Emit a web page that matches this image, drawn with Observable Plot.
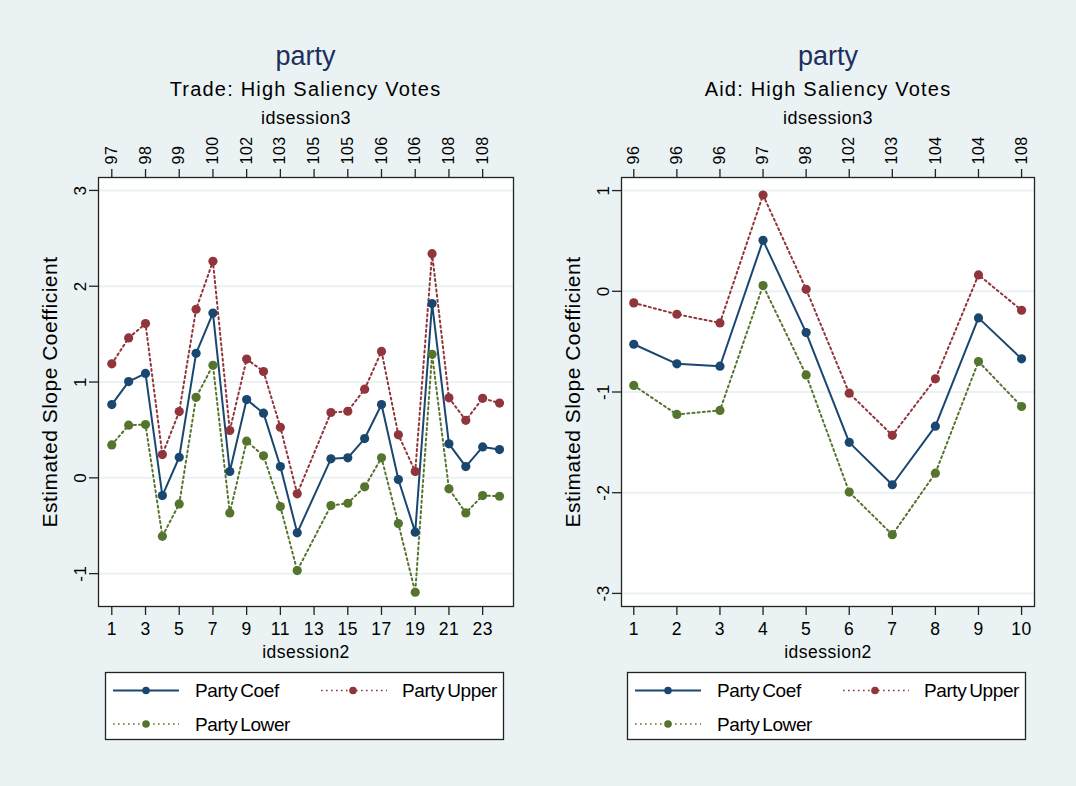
<!DOCTYPE html>
<html>
<head>
<meta charset="utf-8">
<script src="https://cdn.jsdelivr.net/npm/d3@7"></script>
<script src="https://cdn.jsdelivr.net/npm/@observablehq/plot@0.6"></script>
<style>
  html, body { margin: 0; padding: 0; background: #eaf2f3; }
  #wrap { position: relative; width: 1076px; height: 786px; background: #eaf2f3; overflow: hidden;
          font-family: "Liberation Sans", Arial, sans-serif; }
  .ttl { position: absolute; transform: translateX(-50%); white-space: pre; line-height: 1; }
  .main { font-size: 27px; color: #1c2f5e; }
  .sub { font-size: 20px; color: #000; letter-spacing: 0.06em; }
  .panel { position: absolute; top: 100px; }
  #legend { position: absolute; left: 0; top: 660px; }
</style>
</head>
<body>
<div id="wrap"></div>
<script>
// ---------- data ----------
const tradeSession2 = [1,2,3,4,5,6,7,8,9,10,11,12,14,15,16,17,18,19,20,21,22,23,24];
const tradeCoef  = [0.765,1.005,1.09,-0.185,0.215,1.30,1.72,0.066,0.817,0.675,0.118,-0.574,0.198,0.209,0.41,0.765,-0.018,-0.567,1.82,0.355,0.118,0.323,0.295];
const tradeUpper = [1.19,1.46,1.61,0.243,0.692,1.76,2.26,0.494,1.24,1.11,0.528,-0.167,0.682,0.695,0.925,1.32,0.449,0.066,2.34,0.835,0.60,0.83,0.78];
const tradeLower = [0.344,0.55,0.556,-0.61,-0.272,0.84,1.175,-0.366,0.383,0.23,-0.30,-0.968,-0.289,-0.265,-0.094,0.209,-0.477,-1.194,1.29,-0.115,-0.366,-0.185,-0.192];
const tradeBottomTicks = [1,3,5,7,9,11,13,15,17,19,21,23];
const tradeTopTicks = [1,3,5,7,9,11,13,15,17,19,21,23];
const tradeTopLabels = ["97","98","99","100","102","103","105","105","106","106","108","108"];
const tradeYTicks = [-1,0,1,2,3];

const aidSession2 = [1,2,3,4,5,6,7,8,9,10];
const aidCoef  = [-0.526,-0.72,-0.744,0.506,-0.41,-1.50,-1.921,-1.339,-0.264,-0.671];
const aidUpper = [-0.115,-0.228,-0.314,0.956,0.02,-1.012,-1.43,-0.869,0.163,-0.188];
const aidLower = [-0.935,-1.223,-1.183,0.057,-0.83,-1.994,-2.417,-1.806,-0.697,-1.144];
const aidBottomTicks = [1,2,3,4,5,6,7,8,9,10];
const aidTopTicks = [1,2,3,4,5,6,7,8,9,10];
const aidTopLabels = ["96","96","96","97","98","102","103","104","104","108"];
const aidYTicks = [-3,-2,-1,0,1];

const seriesNames = ["Party Coef", "Party Upper", "Party Lower"];
const seriesColors = ["#1a476f", "#90353b", "#55752f"];

// ---------- helpers ----------
const FONT = "Liberation Sans, Arial, sans-serif";
const wrap = document.getElementById("wrap");

function addTitle(text, cls, cx, top) {
  const d = document.createElement("div");
  d.className = "ttl " + cls;
  d.textContent = text;
  d.style.left = cx + "px";
  d.style.top = top + "px";
  wrap.appendChild(d);
}

function panel(cfg) {
  const rows = cfg.xs.map((x, i) => ({x, coef: cfg.coef[i], upper: cfg.upper[i], lower: cfg.lower[i]}));
  const top = cfg.topTicks.map((x, i) => ({x, label: cfg.topLabels[i]}));
  const fmt = d => String(d);
  const svg = Plot.plot({
    width: 538, height: 580,
    marginLeft: cfg.ml, marginRight: cfg.mr, marginTop: 77, marginBottom: 74,
    style: {background: "transparent", fontFamily: FONT, overflow: "visible", color: "#000"},
    x: {domain: cfg.xDomain, axis: null},
    y: {domain: cfg.yDomain, axis: null},
    marks: [
      Plot.frame({fill: "white", stroke: null}),
      Plot.gridY(cfg.yTicks, {stroke: "#eaf2f3", strokeOpacity: 1, strokeWidth: 2}),
      Plot.line(rows, {x: "x", y: "upper", stroke: seriesColors[1], strokeWidth: 2, strokeDasharray: "2,3.2"}),
      Plot.line(rows, {x: "x", y: "lower", stroke: seriesColors[2], strokeWidth: 2, strokeDasharray: "2,3.2"}),
      Plot.line(rows, {x: "x", y: "coef", stroke: seriesColors[0], strokeWidth: 2}),
      Plot.dot(rows, {x: "x", y: "upper", r: 4.6, fill: seriesColors[1]}),
      Plot.dot(rows, {x: "x", y: "lower", r: 4.6, fill: seriesColors[2]}),
      Plot.dot(rows, {x: "x", y: "coef", r: 4.6, fill: seriesColors[0]}),
      Plot.frame({stroke: "#222", strokeWidth: 1.3}),
      // left axis
      Plot.axisY(cfg.yTicks, {anchor: "left", tickSize: 9, tickFormat: () => "", label: null, stroke: "#222", strokeWidth: 1.3}),
      Plot.text(cfg.yTicks, {y: d => d, text: fmt, frameAnchor: "left", dx: -18, rotate: -90,
        textAnchor: "middle", lineAnchor: "middle", fontSize: 17, fill: "#000"}),
      Plot.text(["Estimated Slope Coefficient"], {text: d => d, frameAnchor: "left", dx: cfg.ylabDx, rotate: -90,
        textAnchor: "middle", lineAnchor: "middle", fontSize: 21, fill: "#000"}),
      // bottom axis
      Plot.axisX(cfg.bottomTicks, {anchor: "bottom", tickSize: 9, tickPadding: 7, fontSize: 17.5, label: null,
        tickFormat: fmt, stroke: "#222", strokeWidth: 1.3, fill: "#000"}),
      Plot.text(["idsession2"], {text: d => d, frameAnchor: "bottom", dy: 51, lineAnchor: "bottom",
        fontSize: 17.5, fill: "#000"}),
      // top axis
      Plot.axisX(cfg.topTicks, {anchor: "top", tickSize: 9, tickFormat: () => "", label: null, stroke: "#222", strokeWidth: 1.3}),
      Plot.text(top, {x: "x", text: "label", frameAnchor: "top", dy: -13, rotate: -90,
        textAnchor: "start", lineAnchor: "middle", fontSize: 16, fill: "#000"}),
      Plot.text(["idsession3"], {text: d => d, frameAnchor: "top", dy: -59, lineAnchor: "middle",
        fontSize: 18, fill: "#000"})
    ]
  });
  svg.style.letterSpacing = "0.05em";
  svg.classList.add("panel");
  svg.style.left = cfg.left + "px";
  wrap.appendChild(svg);
}

// ---------- titles ----------
addTitle("party", "main", 305.5, 43);
addTitle("Trade: High Saliency Votes", "sub", 305.5, 79);
addTitle("party", "main", 828, 43);
addTitle("Aid: High Saliency Votes", "sub", 828, 79);

// ---------- panels ----------
panel({
  left: 0, ml: 98, mr: 25,
  xs: tradeSession2, coef: tradeCoef, upper: tradeUpper, lower: tradeLower,
  xDomain: [0.211, 24.83], yDomain: [-1.343, 3.135],
  yTicks: tradeYTicks, bottomTicks: tradeBottomTicks,
  topTicks: tradeTopTicks, topLabels: tradeTopLabels, ylabDx: -48
});
panel({
  left: 538, ml: 83, mr: 42,
  xs: aidSession2, coef: aidCoef, upper: aidUpper, lower: aidLower,
  xDomain: [0.715, 10.3], yDomain: [-3.13, 1.13],
  yTicks: aidYTicks, bottomTicks: aidBottomTicks,
  topTicks: aidTopTicks, topLabels: aidTopLabels, ylabDx: -48
});

// ---------- legends ----------
const lg = d3.select(wrap).append("svg").attr("id", "legend")
  .attr("width", 1076).attr("height", 100)
  .style("font-family", FONT);
function legendBox(x0) {
  const g = lg.append("g");
  g.append("rect").attr("x", x0 + 0.5).attr("y", 12.5).attr("width", 398).attr("height", 67)
    .attr("fill", "white").attr("stroke", "#222").attr("stroke-width", 1.3);
  const items = [
    {i: 0, lx: x0 + 8, dx: x0 + 41, tx: x0 + 90, y: 30.5},
    {i: 1, lx: x0 + 216, dx: x0 + 248, tx: x0 + 297, y: 30.5},
    {i: 2, lx: x0 + 8, dx: x0 + 41, tx: x0 + 90, y: 64}
  ];
  items.forEach(it => {
    g.append("line").attr("x1", it.lx).attr("x2", it.lx + 66).attr("y1", it.y).attr("y2", it.y)
      .attr("stroke", seriesColors[it.i]).attr("stroke-width", it.i === 0 ? 2 : 1.6)
      .attr("stroke-dasharray", it.i === 0 ? null : "1.6,3.4");
    g.append("circle").attr("cx", it.dx).attr("cy", it.y).attr("r", 3.8).attr("fill", seriesColors[it.i]);
    g.append("text").attr("x", it.tx).attr("y", it.y).attr("dy", "0.35em")
      .attr("font-size", 19).attr("letter-spacing", "-0.4px").attr("word-spacing", "-2px")
      .text(seriesNames[it.i]);
  });
}
legendBox(105);
legendBox(627);
</script>
</body>
</html>
